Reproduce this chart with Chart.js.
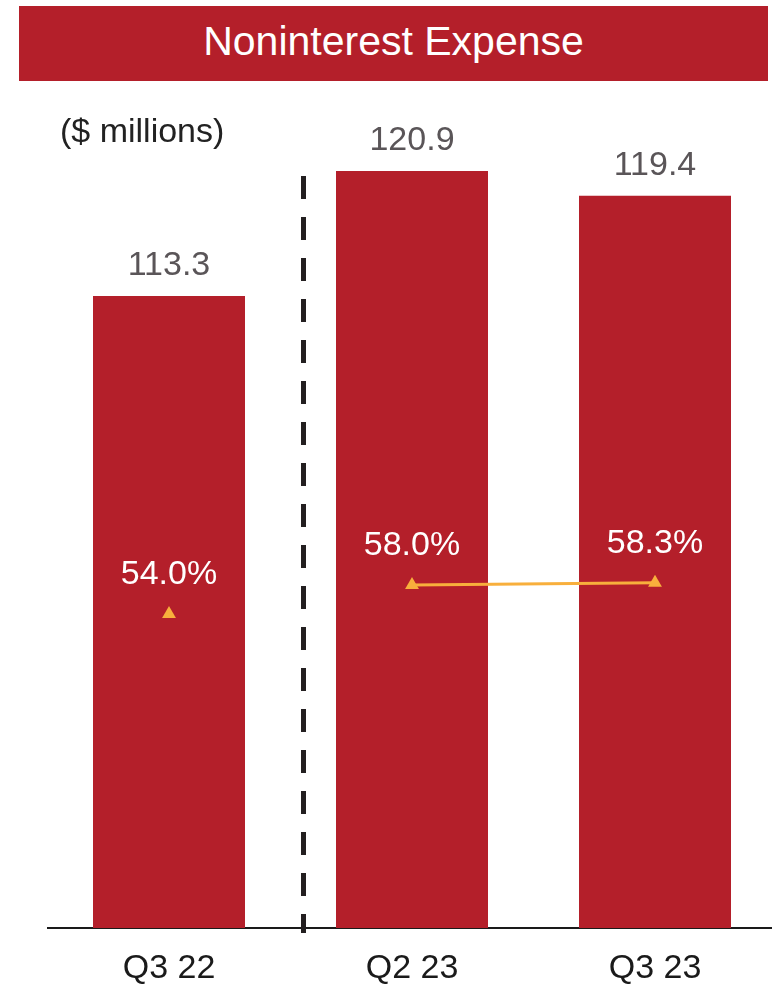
<!DOCTYPE html>
<html>
<head>
<meta charset="utf-8">
<title>Noninterest Expense</title>
<script src="https://cdn.jsdelivr.net/npm/chart.js@4.4.0/dist/chart.umd.min.js"></script>
<style>
  html, body { margin: 0; padding: 0; background: #fff; overflow: hidden; width: 788px; height: 990px; }
  #wrap { position: relative; width: 788px; height: 990px; overflow: hidden; }
  #chart { position: absolute; left: 0; top: 0; width: 788px; height: 990px; }
  #banner {
    position: absolute; left: 19px; top: 6px; width: 749px; height: 75px;
    background: #B41F2A; color: #fff; text-align: center;
    font: 41px "Liberation Sans", Arial, sans-serif; line-height: 70px;
  }
  #unit {
    position: absolute; left: 60px; top: 114px;
    font: 34px "Liberation Sans", Arial, sans-serif; line-height: 33px; color: #222;
  }
</style>
</head>
<body>
<div id="wrap">
  <canvas id="chart" width="788" height="990"></canvas>
  <div id="banner">Noninterest Expense</div>
  <div id="unit">($ millions)</div>
</div>
<script>
// Quarterly noninterest expense ($ millions) and efficiency ratio (%)
const categories = ['Q3 22', 'Q2 23', 'Q3 23'];
const expense = [113.3, 120.9, 119.4];
const efficiencyRatio = [54.0, 58.0, 58.3];

const RED = '#B41F2A';
const ORANGE = '#F8AF3C';
const FONT = '"Liberation Sans", Arial, sans-serif';

// Value labels above bars and above ratio markers
const valueLabels = {
  id: 'valueLabels',
  afterDatasetsDraw(chart) {
    const ctx = chart.ctx;
    ctx.save();
    ctx.textAlign = 'center';
    ctx.textBaseline = 'alphabetic';
    ctx.font = '34px ' + FONT;
    chart.data.datasets.forEach((ds, i) => {
      const meta = chart.getDatasetMeta(i);
      meta.data.forEach((el, j) => {
        const v = ds.data[j];
        if (v == null) return;
        if (ds.type === 'bar') {
          ctx.fillStyle = '#5A5558';
          ctx.fillText(v.toFixed(1), el.x, el.y - 21);
        } else {
          ctx.fillStyle = '#FFFFFF';
          ctx.fillText(v.toFixed(1) + '%', el.x, el.y - 30);
        }
      });
    });
    ctx.restore();
  }
};

// Dashed divider separating the prior-year quarter from the recent quarters
const divider = {
  id: 'divider',
  afterDraw(chart) {
    const xs = chart.scales.x, ys = chart.scales.y;
    const x = xs.getPixelForValue(0.5535);
    const top = ys.getPixelForValue(120.6);
    const bottom = xs.top + 5;
    const ctx = chart.ctx;
    ctx.save();
    ctx.strokeStyle = '#231F20';
    ctx.lineWidth = 5;
    ctx.setLineDash([23, 18]);
    ctx.beginPath();
    ctx.moveTo(x, top);
    ctx.lineTo(x, bottom);
    ctx.stroke();
    ctx.restore();
  }
};

new Chart(document.getElementById('chart'), {
  data: {
    labels: categories,
    datasets: [
      {
        type: 'line',
        label: 'Efficiency ratio',
        data: efficiencyRatio,
        yAxisID: 'y1',
        order: 0,
        borderColor: ORANGE,
        borderWidth: 3,
        pointStyle: 'triangle',
        pointRadius: 8,
        pointBackgroundColor: ORANGE,
        pointBorderWidth: 0,
        segment: {
          borderColor: c => (c.p0DataIndex === 0 ? 'rgba(0,0,0,0)' : ORANGE)
        }
      },
      {
        type: 'bar',
        label: 'Noninterest expense',
        data: expense,
        yAxisID: 'y',
        order: 1,
        backgroundColor: RED,
        borderWidth: 0,
        barPercentage: 0.6255,
        categoryPercentage: 1
      }
    ]
  },
  options: {
    responsive: false,
    animation: false,
    layout: { padding: { top: 100, left: 47.5, right: 11.5, bottom: 0 } },
    plugins: { legend: { display: false }, tooltip: { enabled: false } },
    scales: {
      x: {
        type: 'category',
        offset: true,
        grid: { display: false, drawTicks: false },
        border: { display: true, color: '#1A1A1A', width: 2 },
        ticks: { color: '#1A1A1A', font: { size: 34, family: FONT }, padding: 20, maxRotation: 0 },
        afterFit(scale) { scale.height = 62; }
      },
      y: { display: false, min: 74.8, max: 125.23 },
      y1: { display: false, position: 'right', min: 10.69, max: 124.9 }
    }
  },
  plugins: [valueLabels, divider]
});
</script>
</body>
</html>
